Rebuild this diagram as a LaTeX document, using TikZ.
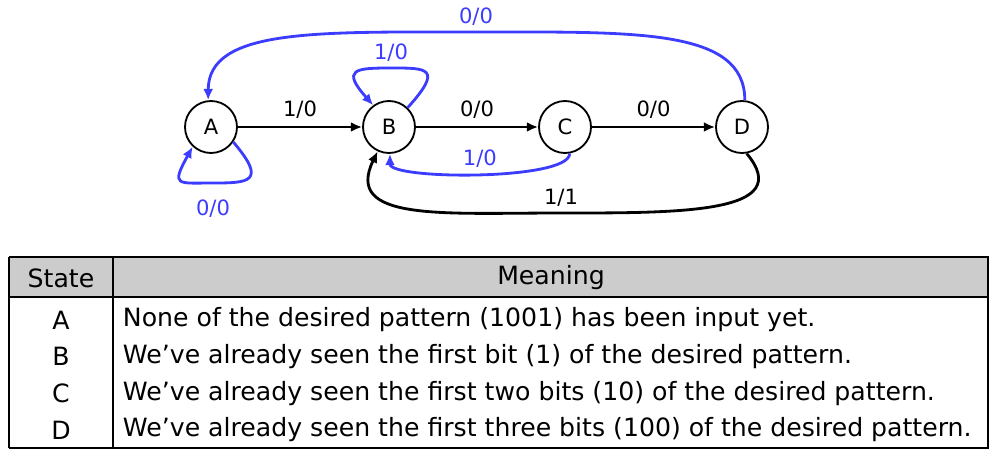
\documentclass[tikz,border=0pt]{standalone}
\usepackage{fontspec}
\setmainfont{DejaVu Sans}
\usepackage{tikz}
\usetikzlibrary{arrows.meta, calc}
\definecolor{fsmblue}{RGB}{60,60,255}
\definecolor{hdrgray}{RGB}{204,204,204}

\begin{document}
\begin{tikzpicture}[
    statenode/.style={circle, draw, line width=1.3pt, minimum size=1.3cm, inner sep=0pt, font=\fontsize{15}{17}\selectfont},
    trans/.style={->, >={Latex[length=8pt,width=7pt]}, line width=2pt},
    lbl/.style={font=\fontsize{15}{17}\selectfont},
    cell/.style={font=\fontsize{17.9}{20}\selectfont}
]
    \useasboundingbox (0,0) rectangle (24.95,11.45);

    % States of the 1001 detector
    \node[statenode] (A) at (5.275, 8.275) {A};
    \node[statenode] (B) at (9.725, 8.275) {B};
    \node[statenode] (C) at (14.125, 8.275) {C};
    \node[statenode] (D) at (18.55, 8.275) {D};

    \coordinate (Abot) at (5.325, 6.875);
    \coordinate (Btop) at (9.775, 9.75);
    \coordinate (DAtop) at (11.9, 10.65);
    \coordinate (DBbot) at (14.025, 6.125);

    % Forward transitions
    \draw[trans] (A) -- node[above=2pt, lbl] (lAB) {1/0} (B);
    \draw[trans] (B) -- node[above=2pt, lbl] (lBC) {0/0} (C);
    \draw[trans] (C) -- node[above=2pt, lbl] (lCD) {0/0} (D);

    % Self loops and back edges
    \draw[trans, fsmblue] (A.-34) .. controls +(0.85,-1.0) and +(0.9,0) .. (Abot) node[below=8pt, lbl] (lAA) {0/0}
        .. controls +(-0.9,0) and +(-0.55,-1.0) .. (A.-133);
    \draw[trans, fsmblue] (B.46) .. controls +(0.9,1.0) and +(0.9,0) .. (Btop) node[above, lbl] (lBB) {1/0}
        .. controls +(-0.9,0) and +(-0.8,0.9) .. (B.126);
    \draw[trans, fsmblue] (C.-80) .. controls +(0,-0.68) and +(0,-0.65) .. node[above, lbl] (lCB) {1/0} (B.-88);
    \draw[trans, fsmblue] (D.84) .. controls +(0,1.8) and +(4,0) .. (DAtop) node[above, lbl] (lDA) {0/0}
        .. controls +(-4,0) and +(0,1.8) .. (A.96);
    \draw[trans] (D.-80) .. controls +(1.25,-1.5) and +(3,0) .. (DBbot) node[above, lbl] (lDB) {1/1}
        .. controls +(-3,0) and +(-0.85,-1.75) .. (B.-115);

    % Table of state meanings
    \fill[hdrgray] (0.225, 4.025) rectangle (24.7, 5.025);
    \draw[line width=2pt] (0.225, 5.025) -- (24.7, 5.025) -- (24.7, 0.25) -- (0.225, 0.25);
    \draw[line width=1.2pt] (0.225, 5.025) -- (0.225, 0.25);
    \draw[line width=2pt] (0.225, 4.025) -- (24.7, 4.025);
    \draw[line width=2pt] (2.825, 5.025) -- (2.825, 0.25);

    \node[cell] (hState) at (1.525, 4.5) {State};
    \node[cell] (hMeaning) at (13.775, 4.5) {Meaning};

    \node[cell] (sA) at (1.525, 3.45) {A};
    \node[cell] (sB) at (1.525, 2.533) {B};
    \node[cell] (sC) at (1.525, 1.617) {C};
    \node[cell] (sD) at (1.525, 0.7) {D};

    \node[cell, anchor=west] (mA) at (2.95, 3.45) {None of the desired pattern (1001) has been input yet.};
    \node[cell, anchor=west] (mB) at (2.95, 2.533) {We've already seen the first bit (1) of the desired pattern.};
    \node[cell, anchor=west] (mC) at (2.95, 1.617) {We've already seen the first two bits (10) of the desired pattern.};
    \node[cell, anchor=west] (mD) at (2.95, 0.7) {We've already seen the first three bits (100) of the desired pattern.};
\end{tikzpicture}
\end{document}
